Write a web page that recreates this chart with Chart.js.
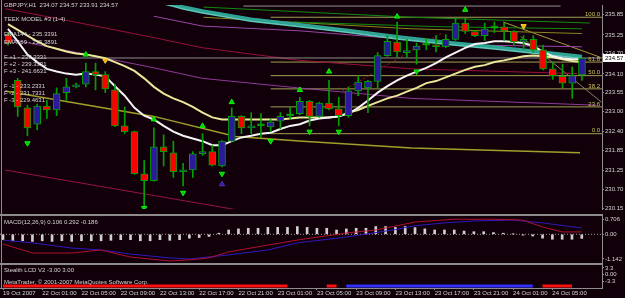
<!DOCTYPE html>
<html lang="en">
<head>
<meta charset="UTF-8">
<title>GBPJPY,H1</title>
<style>
    body {
        margin: 0;
        width: 625px;
        height: 298px;
        overflow: hidden;
        position: relative;
        background: #110009;
    }
    canvas { position: absolute; left: 0; }
    #mainChart { top: 0; }
    #macdChart { top: 216px; }
    #lcdChart { top: 265px; }
    .sep { position: absolute; left: 0; width: 603px; height: 2px; background: #8c8c8c; }
    #leftEdge { position: absolute; left: 1px; top: 0; width: 1px; height: 288px; background: #8c8c8c; }
</style>
<script src="https://cdn.jsdelivr.net/npm/chart.js"></script>
</head>
<body>
<canvas id="mainChart" width="625" height="214"></canvas>
<div class="sep" style="top:214px"></div>
<canvas id="macdChart" width="625" height="47"></canvas>
<div class="sep" style="top:263px"></div>
<canvas id="lcdChart" width="625" height="33"></canvas>
<div id="leftEdge"></div>

<script>
// ---------- data ----------
const opens = [235.26,233.91,233.10,232.62,233.15,233.04,233.55,233.72,233.80,234.17,
               234.08,233.63,232.57,232.40,231.16,230.96,231.95,231.78,231.22,231.27,
               231.75,231.81,231.39,232.12,232.85,232.51,232.57,232.54,232.71,232.87,
               232.93,233.29,232.85,233.24,233.07,232.87,233.60,233.69,233.88,234.64,
               235.04,234.73,234.81,234.95,234.95,234.90,235.12,235.60,235.35,235.23,
               235.45,235.49,235.35,235.06,235.12,234.81,234.25,234.03,233.83,234.07];
const highs = [235.32,233.97,233.18,233.21,233.32,233.69,233.97,233.83,234.42,234.42,
               234.17,233.80,233.13,232.42,231.55,232.51,232.31,232.12,231.47,231.81,
               232.34,232.00,232.14,233.10,232.87,232.96,232.93,232.76,232.96,233.13,
               233.41,233.32,233.27,233.91,233.41,233.72,234.05,233.91,234.73,235.23,
               235.63,235.12,235.01,235.15,235.23,235.26,235.74,235.74,235.38,235.60,
               235.63,235.60,235.38,235.23,235.23,234.95,234.45,234.39,234.31,234.57];
const lows = [234.95,232.85,232.28,232.45,232.79,232.87,233.32,233.69,233.72,233.63,
              233.55,232.55,232.34,231.14,230.18,230.94,231.39,231.05,230.80,231.05,
              231.70,231.39,231.36,232.10,232.34,232.34,232.23,232.40,232.48,232.76,
              232.90,232.57,232.82,233.04,232.57,232.82,233.46,232.96,233.69,234.62,
              234.59,234.59,234.39,234.81,234.75,234.87,235.09,235.29,235.20,235.09,
              235.32,235.09,234.95,234.81,234.73,234.22,233.94,233.69,233.38,233.91];
const closes = [235.01,233.13,232.51,233.15,233.04,233.52,233.72,233.77,234.17,234.08,
                233.66,232.57,232.40,231.16,230.96,231.95,231.81,231.22,231.27,231.75,
                231.81,231.41,232.12,232.85,232.51,232.57,232.58,232.68,232.85,232.88,
                233.29,232.85,233.24,233.07,232.87,233.60,233.86,233.88,234.64,235.06,
                234.75,234.78,234.92,234.95,234.90,235.12,235.60,235.35,235.23,235.43,
                235.46,235.37,235.04,235.12,234.81,234.25,234.05,233.83,234.05,234.57];

// fast (white) and slow (pale yellow) moving averages, one value per bar
const maWhite = [235.43,235.06,234.67,234.45,234.25,234.17,234.11,234.08,234.11,234.08,
                 234.03,233.74,233.46,233.10,232.87,232.76,232.57,232.40,232.28,232.20,
                 232.12,232.00,232.00,232.12,232.23,232.28,232.34,232.37,232.48,232.57,
                 232.62,232.73,232.79,232.82,232.85,232.93,233.10,233.32,233.55,233.74,
                 233.91,234.05,234.17,234.28,234.42,234.59,234.73,234.87,234.98,235.01,
                 235.06,235.06,235.04,235.01,234.92,234.76,234.62,234.56,234.53,234.53];
const maYellow = [235.57,235.40,235.23,235.06,234.92,234.84,234.76,234.70,234.67,234.62,
                  234.56,234.45,234.33,234.19,233.97,233.72,233.52,233.38,233.27,233.13,
                  232.96,232.82,232.76,232.76,232.76,232.76,232.76,232.76,232.76,232.79,
                  232.82,232.82,232.82,232.82,232.85,232.96,233.04,233.16,233.27,233.38,
                  233.46,233.58,233.69,233.83,233.89,234.00,234.11,234.22,234.31,234.36,
                  234.45,234.50,234.56,234.62,234.64,234.62,234.59,234.53,234.48,234.45];

// EMA144 / EMA169 band (sampled bars)
const tealIdx = [0, 5, 10, 15, 17, 18, 20, 25, 30, 35, 40, 45, 50, 55, 59];
const ema144 = [237.37,237.00,236.66,236.30,236.16,236.08,235.96,235.72,235.56,235.39,235.20,235.04,234.90,234.75,234.62];
const ema169 = [237.31,236.94,236.60,236.24,236.10,236.02,235.90,235.66,235.50,235.33,235.14,234.98,234.84,234.69,234.56];

// other indicator / trend lines: [bar, price] knots
const redSlowIdx = [-0.3, 4, 14.5, 20, 30, 41.5, 58.5];
const redSlow = [236.02, 235.79, 235.20, 234.87, 234.50, 234.25, 234.11];
const purpleIdx = [-0.3, 14.5, 20, 29.8, 41.5, 60.5];
const purpleLine = [235.15, 234.31, 233.97, 233.69, 233.38, 233.18];
const magentaIdx = [15, 20, 30, 48.3, 59];
const magentaLine = [235.80, 235.51, 235.37, 234.95, 234.90];
const lowerIdx = [-0.3, 23.1, 30.3];
const lowerLine = [231.27, 230.12, 229.78];
const oliveIdx = [-0.3, 15, 23.4, 30.3, 41.5, 48.6, 58.8];
const oliveLine = [233.60, 232.85, 232.26, 232.12, 231.92, 231.86, 231.78];
const green1Idx = [20.1, 41.5, 59.8];
const green1 = [236.07, 235.77, 235.60];
const green2Idx = [29.3, 44.5, 59];
const green2 = [235.63, 235.49, 235.43];
const olive2Idx = [20.1, 41.5, 59];
const olive2 = [235.77, 235.43, 235.29];
const topGrayIdx = [24.2, 56.8];
const topGray = [236.10, 236.10];
const trendAIdx = [50.9, 60.9];
const trendA = [235.63, 234.59];
const trendBIdx = [52.7, 61];
const trendB = [235.20, 233.27];
const dotRedIdx = [34.4, 44.5];
const dotRed = [233.60, 235.29];

// fibonacci retracement
const fibStart = 27;
const fibLabels = ['100.0', '61.8', '50.0', '38.2', '23.6', '0.0'];
const fibPrices = [235.77, 234.45, 234.05, 233.66, 233.13, 232.34];
const bidPrice = 234.57;

// fractal arrows and signals
const upFracIdx = [8, 15, 20, 23, 30, 33, 40, 47];
const upFracPrice = [234.67, 232.76, 232.57, 233.27, 233.63, 234.17, 235.79, 235.99];
const dnFracIdx = [2, 14, 18, 22, 27, 31, 34, 42];
const dnFracPrice = [232.06, 230.15, 230.60, 231.16, 232.12, 232.40, 232.40, 234.17];
const sellIdx = [10, 53];
const sellPrice = [234.50, 235.51];
const buyIdx = [22];
const buyPrice = [230.85];

const priceTicks = [235.85, 235.25, 234.70, 234.10, 233.55, 233.00, 232.40, 231.85, 231.25, 230.70, 230.15];

// MACD(12,26,9)
const macdHist = [-0.25,-0.30,-0.30,-0.33,-0.30,-0.33,-0.30,-0.33,-0.30,-0.30,
                  -0.30,-0.28,-0.25,-0.25,-0.30,-0.30,-0.25,-0.28,-0.25,-0.18,
                  -0.15,-0.10,0.05,0.20,0.25,0.28,0.28,0.32,0.32,0.32,
                  0.36,0.32,0.28,0.28,0.20,0.25,0.28,0.28,0.36,0.36,
                  0.32,0.36,0.31,0.25,0.20,0.20,0.20,0.15,0.12,0.12,
                  0.08,0.05,0.01,-0.04,-0.08,-0.18,-0.23,-0.23,-0.23,-0.19];
const macdIdx = [0, 1, 3, 7, 10, 13, 17, 19, 21, 23, 27, 30, 35, 38, 42, 46, 50, 53, 55, 57, 59];
const macdMain = [-0.45,-0.59,-0.87,-0.87,-0.73,-1.06,-1.24,-1.19,-1.10,-0.82,-0.50,-0.27,0.06,0.20,0.57,0.70,0.70,0.66,0.34,0.11,0.11];
const signalIdx = [0, 3, 7, 10, 13, 17, 19, 20, 23, 27, 30, 35, 40, 42, 45, 48, 52, 55, 59];
const macdSignal = [-0.27,-0.40,-0.64,-0.73,-0.92,-1.10,-1.15,-1.10,-0.96,-0.73,-0.40,-0.13,0.22,0.40,0.53,0.62,0.66,0.53,0.29];
const macdTicks = [0.706, 0, -1.142];
const macdTickText = ['0.706', '0.00', '-1.142'];

// Stealth LCD V2: -1 sell, 1 buy, 0 nothing
const lcdSignal = [-1,-1,-1,-1,-1,-1,-1,-1,-1,-1,
                   -1,-1,-1,-1,-1,-1,-1,-1,-1,-1,
                   -1,-1,-1,-1,-1,-1,-1,-1,-1,-1,
                    0, 0, 0,-1,-1, 1, 1, 1, 1, 1,
                    1, 1, 1, 1, 1, 1, 1, 1, 1, 1,
                    1, 1, 1, 1, 1,-1,-1,-1,-1, 0];
const lcdLevel = -5.5;
const lcdTicks = [3.3, 0, -3.3];
const lcdTickText = ['3.3', '0.00', '-3.3'];

const xTickIdx = [0, 4, 8, 12, 16, 20, 24, 28, 32, 36, 40, 44, 48, 52, 56];
const xTickLabels = ['19 Oct 2007', '22 Oct 01:00', '22 Oct 05:00', '22 Oct 09:00', '22 Oct 13:00',
                     '22 Oct 17:00', '22 Oct 21:00', '23 Oct 01:00', '23 Oct 05:00', '23 Oct 09:00',
                     '23 Oct 13:00', '23 Oct 17:00', '23 Oct 21:00', '24 Oct 01:00', '24 Oct 05:00'];

// ---------- helpers ----------
const X_MIN = -0.306, X_MAX = 61.06;
const TXT = '#d4d4d4';
const GRAY = '#8c8c8c';
Chart.defaults.font.family = '"Liberation Sans", Arial, sans-serif';
Chart.defaults.font.size = 6;

function knots(idx, vals) { return idx.map((x, k) => ({x: x, y: vals[k]})); }
function perBar(vals) { return vals.map((y, i) => ({x: i, y: y})); }
function lineDs(data, color, width, order, extra) {
    return Object.assign({type: 'line', data: data, borderColor: color, borderWidth: width,
        pointRadius: 0, fill: false, tension: 0, order: order}, extra || {});
}
function markDs(data, color, border, rotation, order) {
    return {type: 'line', data: data, showLine: false, pointStyle: 'triangle', pointRadius: 3,
        pointRotation: rotation, pointBackgroundColor: color, pointBorderColor: border,
        pointBorderWidth: 1, order: order};
}
function hidden_x() {
    return {type: 'linear', min: X_MIN, max: X_MAX, offset: false, display: false};
}
function rightAxis(min, max, ticks, fmt) {
    return {
        type: 'linear', position: 'right', min: min, max: max, beginAtZero: false,
        afterBuildTicks: s => { s.ticks = ticks.map(v => ({value: v})); },
        afterFit: s => { s.width = 23; s.paddingTop = 0; s.paddingBottom = 0; },
        grid: {display: true, drawOnChartArea: false, drawTicks: true, tickLength: 2, color: GRAY},
        border: {display: true, color: GRAY},
        ticks: {color: TXT, padding: 1, font: {size: 6}, callback: fmt}
    };
}
const baseOpts = {
    responsive: false, animation: false, devicePixelRatio: 1, events: [],
    layout: {padding: 0},
    plugins: {legend: {display: false}, tooltip: {enabled: false}}
};

// ---------- main price panel ----------
const bodyColors = opens.map((o, i) => Math.abs(closes[i] - o) < 0.015 ? '#00c000'
    : (closes[i] > o ? '#2c1a9c' : '#ff0000'));

const mainText = {
    id: 'mainText',
    afterDatasetsDraw(chart) {
        const ctx = chart.ctx, y = chart.scales.y, area = chart.chartArea;
        ctx.save();
        ctx.font = '6px "Liberation Sans", Arial, sans-serif';
        ctx.textBaseline = 'middle';
        ctx.fillStyle = TXT;
        const info = ['GBPJPY,H1  234.07 234.57 233.91 234.57', 'TEEK MODEL #3 (1-4)',
            'EMA144 - 235.3391', 'EMA169 - 235.3891',
            'F +1 - 237.3331', 'F +2 - 239.3331', 'F +3 - 241.6631',
            'F -1 - 233.2331', 'F -2 - 231.7331', 'F -3 - 229.4631'];
        const rows = [5, 19, 34, 42, 57, 64, 71, 86, 93, 100];
        info.forEach((t, k) => ctx.fillText(t, 4, rows[k]));
        // fibo level captions
        ctx.textAlign = 'right';
        ctx.fillStyle = '#c8c858';
        fibPrices.forEach((p, k) => ctx.fillText(fibLabels[k], area.right - 2, y.getPixelForValue(p) - 3));
        // current price box
        const py = y.getPixelForValue(bidPrice);
        ctx.fillStyle = '#ffffff';
        ctx.fillRect(area.right + 1, py - 4, 22, 8);
        ctx.fillStyle = '#000000';
        ctx.textAlign = 'left';
        ctx.fillText(bidPrice.toFixed(2), area.right + 3, py);
        ctx.restore();
    }
};

const fibSets = fibPrices.map(p => lineDs([{x: fibStart, y: p}, {x: X_MAX, y: p}], '#a0a056', 1, 9));

new Chart(document.getElementById('mainChart'), {
    type: 'bar',
    data: {
        datasets: [
            markDs(knots(upFracIdx, upFracPrice), '#10c010', '#00ff00', 0, 0),
            markDs(knots(dnFracIdx, dnFracPrice), '#10c010', '#00ff00', 180, 0),
            markDs(knots(sellIdx, sellPrice), '#f0b000', '#ffd040', 180, 0),
            markDs(knots(buyIdx, buyPrice), '#3a1aa0', '#5030c0', 0, 0),
            {type: 'bar', data: opens.map((o, i) => ({x: i, y: [o, closes[i]]})),
             backgroundColor: bodyColors, borderColor: '#00a000', borderWidth: 1,
             borderSkipped: false, barThickness: 7, minBarLength: 2, grouped: false, order: 1},
            {type: 'bar', data: lows.map((l, i) => ({x: i, y: [l, highs[i]]})),
             backgroundColor: '#00a000', borderWidth: 0, barThickness: 1, grouped: false, order: 2},
            lineDs(perBar(maWhite), '#f4f4f4', 2, 3),
            lineDs(perBar(maYellow), '#e8e898', 2, 4),
            lineDs(knots(tealIdx, ema144), '#30a494', 3, 5),
            lineDs(knots(tealIdx, ema169), '#60c8b8', 2, 5),
            lineDs([{x: X_MIN, y: bidPrice}, {x: X_MAX, y: bidPrice}], '#8c8c8c', 1, 6),
            lineDs(knots(redSlowIdx, redSlow), '#98103a', 1, 7),
            lineDs(knots(purpleIdx, purpleLine), '#903a98', 1, 7),
            lineDs(knots(magentaIdx, magentaLine), '#9a44a8', 1, 7),
            lineDs(knots(lowerIdx, lowerLine), '#98104a', 1, 7),
            lineDs(knots(oliveIdx, oliveLine), '#a0a02c', 1.5, 7),
            lineDs(knots(green1Idx, green1), '#128a12', 1, 8),
            lineDs(knots(green2Idx, green2), '#128a12', 1, 8),
            lineDs(knots(olive2Idx, olive2), '#88881e', 1, 8),
            lineDs(knots(topGrayIdx, topGray), '#909090', 1, 8),
            lineDs(knots(trendAIdx, trendA), '#a89a3c', 1, 8),
            lineDs(knots(trendBIdx, trendB), '#848468', 1, 8),
            lineDs(knots(dotRedIdx, dotRed), '#a02020', 1, 8, {borderDash: [2, 2]})
        ].concat(fibSets)
    },
    options: Object.assign({}, baseOpts, {
        scales: {
            x: hidden_x(),
            y: rightAxis(230.122, 236.131, priceTicks, v => v.toFixed(2))
        }
    }),
    plugins: [mainText]
});

// ---------- MACD panel ----------
const macdText = {
    id: 'macdText',
    afterDatasetsDraw(chart) {
        const ctx = chart.ctx;
        ctx.save();
        ctx.font = '6px "Liberation Sans", Arial, sans-serif';
        ctx.textBaseline = 'middle';
        ctx.fillStyle = TXT;
        ctx.fillText('MACD(12,26,9) 0.106 0.292 -0.186', 4, 6);
        ctx.restore();
    }
};

new Chart(document.getElementById('macdChart'), {
    type: 'bar',
    data: {
        datasets: [
            {type: 'bar', data: perBar(macdHist), backgroundColor: '#d0d0d0',
             barThickness: 2, grouped: false, order: 3},
            lineDs(knots(macdIdx, macdMain), '#b01030', 1, 1),
            lineDs(knots(signalIdx, macdSignal), '#3018c0', 1, 2),
            lineDs([{x: X_MIN, y: 0}, {x: X_MAX, y: 0}], '#9a9a9a', 1, 4, {borderDash: [1, 2]})
        ]
    },
    options: Object.assign({}, baseOpts, {
        scales: {
            x: hidden_x(),
            y: rightAxis(-1.335, 0.851, macdTicks, (v, i) => macdTickText[i])
        }
    }),
    plugins: [macdText]
});

// ---------- Stealth LCD panel + time axis ----------
const lcdText = {
    id: 'lcdText',
    afterDatasetsDraw(chart) {
        const ctx = chart.ctx;
        ctx.save();
        ctx.font = '6px "Liberation Sans", Arial, sans-serif';
        ctx.textBaseline = 'middle';
        ctx.fillStyle = TXT;
        ctx.fillText('Stealth LCD V2 -3.00 3.00', 4, 5);
        ctx.fillText('MetaTrader, \u00a9 2001-2007 MetaQuotes Software Corp.', 4, 17);
        ctx.restore();
    }
};

new Chart(document.getElementById('lcdChart'), {
    type: 'line',
    data: {
        datasets: [
            lineDs(lcdSignal.map((s, i) => ({x: i, y: s === -1 ? lcdLevel : null})), '#ff1010', 3, 1),
            lineDs(lcdSignal.map((s, i) => ({x: i, y: s === 1 ? lcdLevel : null})), '#3030ff', 3, 1)
        ]
    },
    options: Object.assign({}, baseOpts, {
        scales: {
            x: {
                type: 'linear', min: X_MIN, max: X_MAX, offset: false,
                afterBuildTicks: s => { s.ticks = xTickIdx.map(v => ({value: v})); },
                afterFit: s => { s.height = 10; s.paddingLeft = 0; s.paddingRight = 0; },
                grid: {display: true, drawOnChartArea: false, drawTicks: true, tickLength: 2, color: GRAY},
                border: {display: true, color: GRAY},
                ticks: {align: 'start', autoSkip: false, maxRotation: 0, color: TXT, padding: 0,
                        font: {size: 6}, callback: (v, i) => xTickLabels[i]}
            },
            y: rightAxis(-6.47, 4.76, lcdTicks, (v, i) => lcdTickText[i])
        }
    }),
    plugins: [lcdText]
});
</script>
</body>
</html>
